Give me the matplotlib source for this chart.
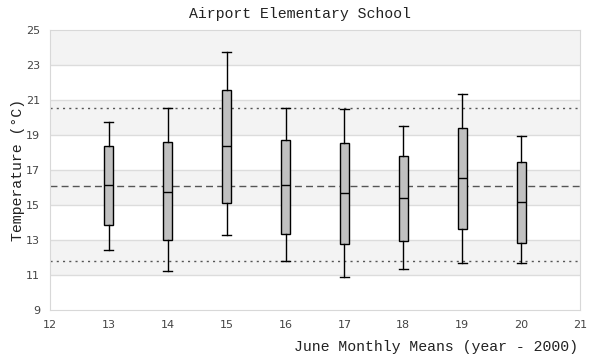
import matplotlib
matplotlib.use("Agg")
import matplotlib.pyplot as plt

years = [13, 14, 15, 16, 17, 18, 19, 20]
whisker_low = [12.43, 11.23, 13.29, 11.80, 10.89, 11.37, 11.69, 11.69]
q1 = [13.86, 13.00, 15.14, 13.34, 12.77, 12.97, 13.63, 12.83]
median = [16.14, 15.77, 18.37, 16.14, 15.69, 15.40, 16.54, 15.17]
q3 = [18.40, 18.60, 21.57, 18.74, 18.57, 17.80, 19.40, 17.46]
whisker_high = [19.77, 20.57, 23.77, 20.57, 20.49, 19.49, 21.37, 18.97]

ref_mean = 16.09
ref_upper = 20.57
ref_lower = 11.80

mono = "Liberation Mono"

fig = plt.figure(figsize=(6, 3.6), dpi=100)
ax = fig.add_axes([50 / 600, 50 / 360, 530 / 600, 280 / 360])

# alternating bands
for lo in range(9, 25, 2):
    if (lo - 9) % 4 == 2:
        ax.axhspan(lo, lo + 2, color="#f3f3f3", zorder=0, lw=0)
for y in range(11, 25, 2):
    ax.axhline(y, color="#dcdcdc", lw=1, zorder=1)

ax.axhline(ref_upper, color="#555555", lw=1, ls=(0, (1.5, 3)), zorder=2)
ax.axhline(ref_lower, color="#555555", lw=1, ls=(0, (1.5, 3)), zorder=2)
ax.axhline(ref_mean, color="#555555", lw=1, ls=(0, (5, 3)), zorder=2)

stats = []
for i in range(len(years)):
    stats.append({"whislo": whisker_low[i], "q1": q1[i], "med": median[i],
                  "q3": q3[i], "whishi": whisker_high[i], "fliers": []})
ax.bxp(stats, positions=years, widths=0.15, patch_artist=True, showfliers=False,
       boxprops=dict(facecolor="#c0c0c0", edgecolor="black", lw=1.0),
       medianprops=dict(color="black", lw=1.0),
       whiskerprops=dict(color="black", lw=1.0),
       capprops=dict(color="black", lw=1.0), capwidths=0.15, zorder=3)

ax.set_xlim(12, 21)
ax.set_ylim(9, 25)
ax.set_xticks(range(12, 22))
ax.set_xticklabels([str(v) for v in range(12, 22)])
ax.set_yticks(range(9, 26, 2))
ax.tick_params(length=0, labelsize=8, colors="#444444", pad=7)
for s in ax.spines.values():
    s.set_color("#d8d8d8")

fig.text(0.5, 1 - 14 / 360, "Airport Elementary School", ha="center", va="center",
         family=mono, fontsize=10.7, color="#222222")
fig.text(578 / 600, 1 - 347 / 360, "June Monthly Means (year - 2000)", ha="right",
         va="center", family=mono, fontsize=10.7, color="#222222")
fig.text(18 / 600, 1 - 170 / 360, "Temperature (°C)", ha="center", va="center",
         rotation=90, family=mono, fontsize=10.7, color="#222222")

fig.savefig("out.png", dpi=100)
